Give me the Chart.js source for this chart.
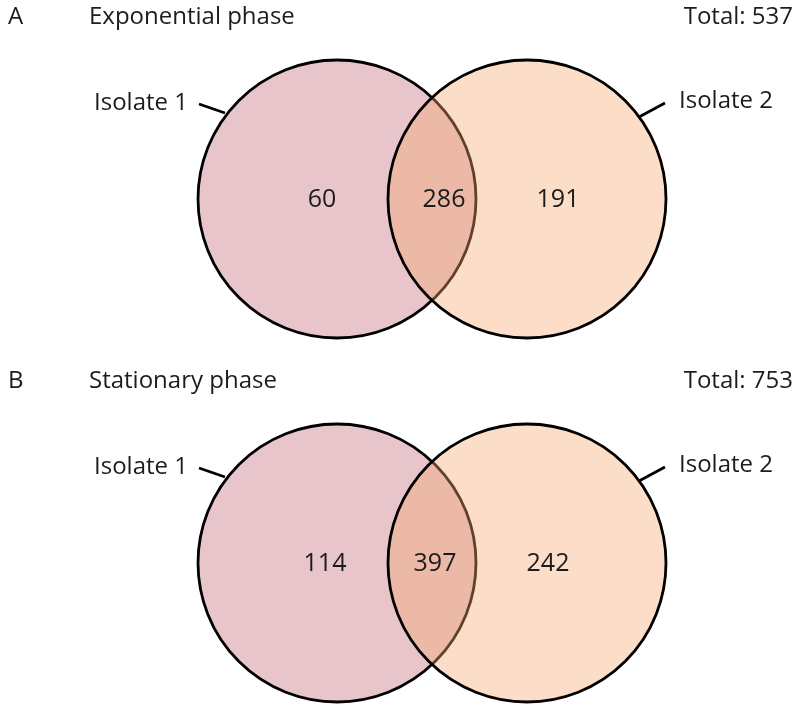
<!DOCTYPE html>
<html>
<head>
<meta charset="utf-8">
<script src="https://cdn.jsdelivr.net/npm/chart.js@4.4.0/dist/chart.umd.min.js"></script>
<style>
  html, body { margin: 0; padding: 0; background: #fff; }
  #wrap { width: 800px; height: 709px; position: relative; }
</style>
</head>
<body>
<div id="wrap"><canvas id="venn"></canvas></div>
<script>
// data
const panelLetters = ['A', 'B']
const phases = ['Exponential phase', 'Stationary phase']
const setNames = ['Isolate 1', 'Isolate 2']
const onlyIsolate1 = [60, 114]
const shared = [286, 397]
const onlyIsolate2 = [191, 242]
const totals = [537, 753]

// layout (canvas units, 1:1 with pixels)
const W = 800, H = 709
const panelY = [199, 563]
const circleX = [337, 527]
const R = 139
const countX = [[322, 444, 558], [325, 435, 548]]
const FONT = '"Open Sans", Lato, sans-serif'
const INK = '#1c1c1c'

const leftFill = '#e8c5ca'
const rightFill = 'rgba(245, 168, 114, 0.39)'

const datasets = []
panelLetters.forEach((p, i) => {
    const cy = panelY[i]
    datasets.push({
        type: 'bubble',
        label: setNames[0] + ' ' + p,
        data: [{ x: circleX[0], y: cy, r: R }],
        backgroundColor: leftFill,
        borderColor: '#000',
        borderWidth: 2.8,
        order: 3,
        clip: false,
    })
    datasets.push({
        type: 'bubble',
        label: setNames[1] + ' ' + p,
        data: [{ x: circleX[1], y: cy, r: R }],
        backgroundColor: rightFill,
        borderColor: '#000',
        borderWidth: 2.8,
        order: 2,
        clip: false,
    })
    // leader lines from labels to circles
    datasets.push({
        type: 'line',
        label: 'lead1 ' + p,
        data: [{ x: 199, y: cy - 95 }, { x: 225, y: cy - 86 }],
        borderColor: '#000',
        borderWidth: 2.8,
        pointRadius: 0,
        order: 1,
        clip: false,
    })
    datasets.push({
        type: 'line',
        label: 'lead2 ' + p,
        data: [{ x: 639, y: cy - 82 }, { x: 665, y: cy - 96 }],
        borderColor: '#000',
        borderWidth: 2.8,
        pointRadius: 0,
        order: 1,
        clip: false,
    })
})

const textPlugin = {
    id: 'vennText',
    afterDatasetsDraw(chart) {
        const ctx = chart.ctx
        const xs = chart.scales.x, ys = chart.scales.y
        const put = (txt, x, y, size, align) => {
            ctx.font = size + 'px ' + FONT
            ctx.textAlign = align
            ctx.fillText(txt, xs.getPixelForValue(x), ys.getPixelForValue(y))
        }
        ctx.save()
        ctx.fillStyle = INK
        ctx.textBaseline = 'middle'
        panelLetters.forEach((p, i) => {
            const cy = panelY[i]
            const top = cy - 182
            put(p, 8, top, 24, 'left')
            put(phases[i], 89, top, 24, 'left')
            put('Total: ' + totals[i], 793, top, 24, 'right')
            put(setNames[0], 188, cy - 96, 24, 'right')
            put(setNames[1], 679, cy - 98, 24, 'left')
            put(String(onlyIsolate1[i]), countX[i][0], cy + 1, 25, 'center')
            put(String(shared[i]), countX[i][1], cy + 1, 25, 'center')
            put(String(onlyIsolate2[i]), countX[i][2], cy + 1, 25, 'center')
        })
        ctx.restore()
    }
}

new Chart(document.getElementById('venn'), {
    type: 'bubble',
    data: { datasets },
    options: {
        responsive: true,
        maintainAspectRatio: false,
        animation: false,
        events: [],
        layout: { padding: 0, autoPadding: false },
        plugins: {
            legend: { display: false },
            tooltip: { enabled: false },
        },
        scales: {
            x: { type: 'linear', min: 0, max: W, display: false },
            y: { type: 'linear', min: 0, max: H, reverse: true, display: false },
        },
    },
    plugins: [textPlugin],
})
</script>
</body>
</html>
